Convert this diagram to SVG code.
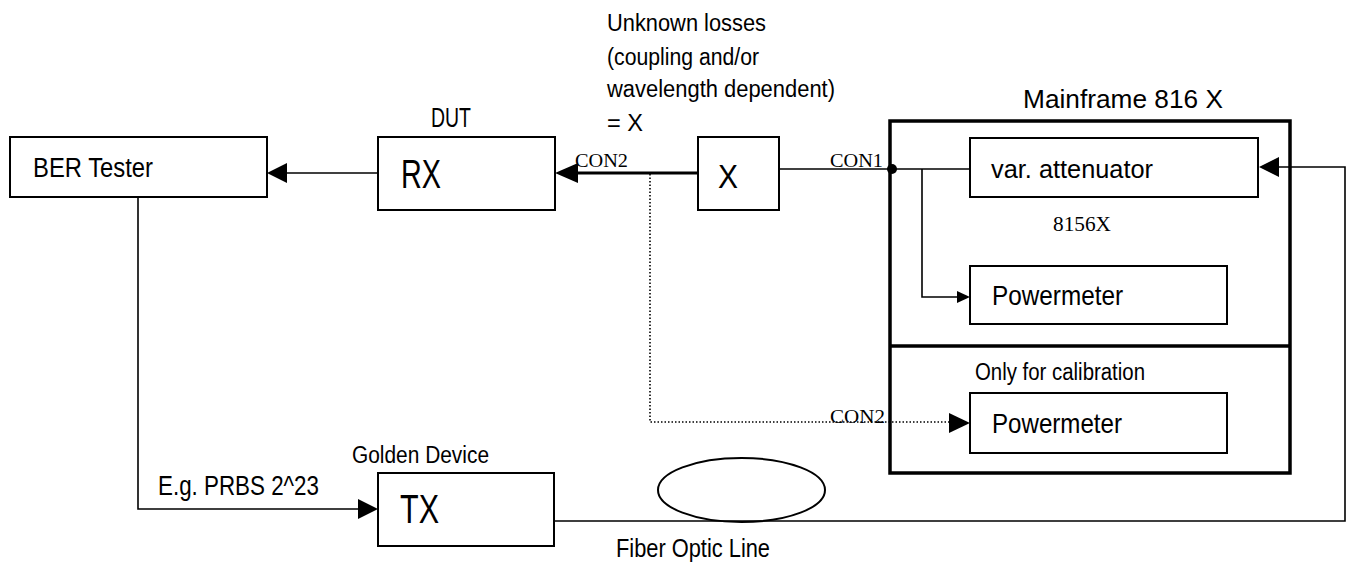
<svg xmlns="http://www.w3.org/2000/svg" width="1346" height="563" viewBox="0 0 1346 563">
<style>
.box{fill:#fff;stroke:#000;stroke-width:2}
.frame{fill:none;stroke:#000;stroke-width:3.5}
.ln{fill:none;stroke:#000;stroke-width:1.6}
.dot{fill:none;stroke:#000;stroke-width:1.6;stroke-dasharray:1.5 2}
.ah{fill:#000;stroke:none}
.c{font-family:"Liberation Sans Narrow","Liberation Sans",Arial,sans-serif;fill:#000}
.s{font-family:"Liberation Serif","Times New Roman",serif;fill:#000}
.a{font-family:"Liberation Sans",Arial,sans-serif;fill:#000}
</style>
<g id="connectors">
  <line class="ln" x1="378" y1="173" x2="285" y2="173"/>
  <polygon class="ah" points="267,173 287,163 287,183"/>
  <line class="ln" x1="698" y1="173" x2="576" y2="173" style="stroke-width:3"/>
  <polygon class="ah" points="555,173 578,163 578,183"/>
  <line class="ln" x1="779" y1="169" x2="970" y2="169"/>
  <circle cx="892" cy="169" r="5" fill="#000"/>
  <polyline class="ln" points="922,169 922,297 958,297"/>
  <polygon class="ah" points="970,297 957,291 957,303"/>
  <polyline class="ln" points="554,521 1345,521 1345,167 1277,167"/>
  <polygon class="ah" points="1259,167 1279,157 1279,177"/>
  <polyline class="ln" points="138,197 138,509 360,509"/>
  <polygon class="ah" points="378,509 358,499 358,519"/>
  <polyline class="dot" points="650,174 650,422 950,422"/>
  <polygon class="ah" points="970,423 949,413 949,433"/>
</g>
<g id="ber">
  <rect class="box" x="10" y="137" width="257" height="60"/>
  <text class="c" x="33" y="177" font-size="27" textLength="120" lengthAdjust="spacingAndGlyphs">BER Tester</text>
</g>
<g id="rx">
  <text class="c" x="431" y="127" font-size="27" textLength="40" lengthAdjust="spacingAndGlyphs">DUT</text>
  <rect class="box" x="378" y="137" width="177" height="73"/>
  <text class="c" x="401" y="188" font-size="41" textLength="40" lengthAdjust="spacingAndGlyphs">RX</text>
</g>
<g id="x">
  <rect class="box" x="698" y="137" width="81" height="73"/>
  <text class="c" x="718" y="188" font-size="33" textLength="20" lengthAdjust="spacingAndGlyphs">X</text>
</g>
<g id="losses-label">
  <text class="c" x="607" y="31" font-size="23" textLength="159" lengthAdjust="spacingAndGlyphs">Unknown losses</text>
  <text class="c" x="607" y="65" font-size="23" textLength="152" lengthAdjust="spacingAndGlyphs">(coupling and/or</text>
  <text class="c" x="607" y="97" font-size="23" textLength="228" lengthAdjust="spacingAndGlyphs">wavelength dependent)</text>
  <text class="c" x="607" y="131" font-size="23" textLength="36" lengthAdjust="spacingAndGlyphs">= X</text>
</g>
<g id="con-labels">
  <text class="s" x="575" y="167" font-size="18" textLength="53" lengthAdjust="spacingAndGlyphs">CON2</text>
  <text class="s" x="830" y="167" font-size="18" textLength="53" lengthAdjust="spacingAndGlyphs">CON1</text>
  <text class="s" x="830" y="423" font-size="18" textLength="55" lengthAdjust="spacingAndGlyphs">CON2</text>
</g>
<g id="mainframe">
  <text class="a" x="1023" y="108" font-size="26" textLength="200" lengthAdjust="spacingAndGlyphs">Mainframe 816 X</text>
  <rect class="frame" x="890" y="121" width="400" height="352"/>
  <line class="frame" x1="890" y1="346" x2="1290" y2="346"/>
  <text class="s" x="1053" y="231" font-size="20" textLength="58" lengthAdjust="spacingAndGlyphs">8156X</text>
  <text class="c" x="975" y="380" font-size="23" textLength="170" lengthAdjust="spacingAndGlyphs">Only for calibration</text>
</g>
<g id="attenuator">
  <rect class="box" x="970" y="138" width="288" height="59"/>
  <text class="c" x="991" y="178" font-size="26" textLength="162" lengthAdjust="spacingAndGlyphs">var. attenuator</text>
</g>
<g id="powermeter1">
  <rect class="box" x="970" y="266" width="257" height="58"/>
  <text class="c" x="992" y="305" font-size="28" textLength="131" lengthAdjust="spacingAndGlyphs">Powermeter</text>
</g>
<g id="powermeter2">
  <rect class="box" x="970" y="393" width="257" height="60"/>
  <text class="c" x="992" y="433" font-size="28" textLength="130" lengthAdjust="spacingAndGlyphs">Powermeter</text>
</g>
<g id="tx">
  <text class="c" x="352" y="463" font-size="23" textLength="137" lengthAdjust="spacingAndGlyphs">Golden Device</text>
  <rect class="box" x="378" y="473" width="176" height="73"/>
  <text class="c" x="400" y="523" font-size="40" textLength="39" lengthAdjust="spacingAndGlyphs">TX</text>
</g>
<g id="prbs-label">
  <text class="c" x="158" y="495" font-size="28" textLength="161" lengthAdjust="spacingAndGlyphs">E.g. PRBS 2^23</text>
</g>
<g id="fiber">
  <ellipse cx="741.5" cy="490" rx="83.5" ry="32" fill="none" stroke="#000" stroke-width="2"/>
  <text class="c" x="616" y="557" font-size="25" textLength="154" lengthAdjust="spacingAndGlyphs">Fiber Optic Line</text>
</g>
</svg>
